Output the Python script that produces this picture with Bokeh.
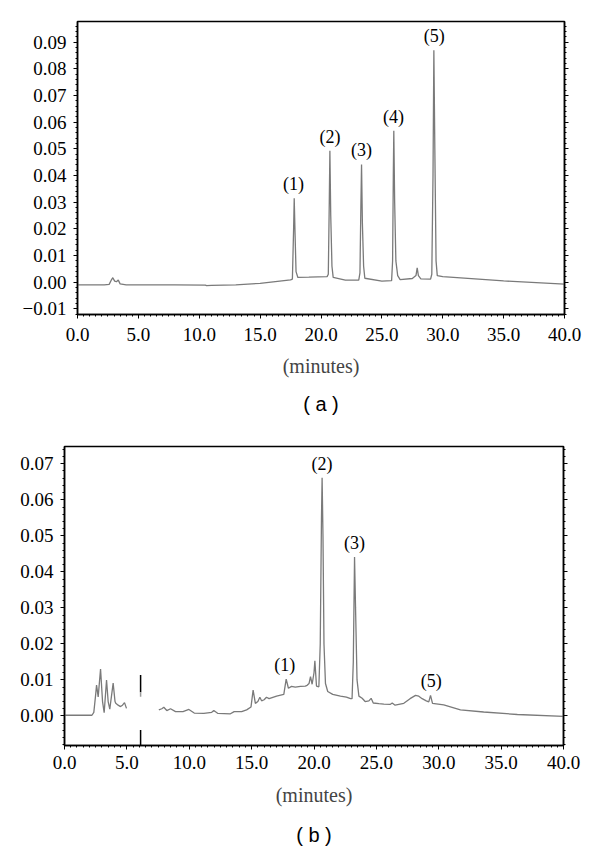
from bokeh.plotting import figure
from bokeh.models import (Range1d, FixedTicker, LinearAxis, Title,
                          CustomJSTickFormatter, PrintfTickFormatter)
from bokeh.core.properties import value
from bokeh.embed import file_html
from bokeh.resources import INLINE

NAN = float("nan")

# ---------------- data: chromatogram (a) ----------------
a_time = [0.0, 2.2, 2.6, 2.8, 2.9, 3.05, 3.2, 3.35, 3.5, 4.0, 8.0, 10.5, 10.6, 11.0,
          13.0, 15.0, 17.5, 17.65, 17.75, 17.8, 17.87, 17.95, 18.1, 19.0, 20.5, 20.6,
          20.68, 20.73, 20.8, 20.9, 21.0, 22.0, 23.1, 23.2, 23.28, 23.33, 23.4, 23.5,
          23.6, 25.0, 25.8, 25.88, 25.94, 25.98, 26.05, 26.15, 26.3, 26.5, 27.5, 27.8,
          27.9, 28.0, 28.2, 29.0, 29.1, 29.2, 29.27, 29.35, 29.45, 29.55, 30.0, 35.0, 40.0]
a_abs = [-0.0010, -0.0010, -0.0008, 0.0010, 0.0017, 0.0004, 0.0002, 0.0008, -0.0006,
         -0.0010, -0.0010, -0.0011, -0.0013, -0.0012, -0.0010, -0.0004, 0.0009, 0.0012,
         0.0200, 0.0315, 0.0180, 0.0040, 0.0018, 0.0019, 0.0021, 0.0030, 0.0300, 0.0493,
         0.0250, 0.0060, 0.0018, 0.0008, 0.0008, 0.0035, 0.0300, 0.0442, 0.0220, 0.0060,
         0.0015, 0.0004, 0.0006, 0.0080, 0.0400, 0.0568, 0.0300, 0.0080, 0.0025, 0.0010,
         0.0014, 0.0025, 0.0054, 0.0025, 0.0013, 0.0012, 0.0030, 0.0400, 0.0870, 0.0500,
         0.0080, 0.0025, 0.0021, 0.0005, -0.0007]
a_peak_labels = ["(1)", "(2)", "(3)", "(4)", "(5)"]
a_peak_times = [17.75, 20.73, 23.33, 25.95, 29.3]
a_peak_heights = [0.0315, 0.0493, 0.0442, 0.0568, 0.0870]

# ---------------- data: chromatogram (b) ----------------
b_time = [0.0, 2.2, 2.35, 2.5, 2.57, 2.7, 2.89, 3.05, 3.18, 3.37, 3.5, 3.63, 3.9, 4.05,
          4.11, 4.3, 4.49, 4.65, 4.81, 4.97, NAN,
          7.56, 7.8, 7.96, 8.2, 8.5, 8.9, 9.5, 9.97, 10.4, 11.17, 11.8, 11.97, 12.3, 13.3,
          13.6, 14.2, 14.6, 14.95, 15.12, 15.3, 15.5, 15.66, 15.8, 16.0, 16.19, 16.4, 17.0,
          17.58, 17.77, 17.95, 18.2, 18.5, 18.92, 19.3, 19.45, 19.6, 19.72, 19.85, 20.0,
          20.07, 20.2, 20.39, 20.5, 20.6, 20.65, 20.72, 20.8, 20.92, 21.1, 21.5, 22.12,
          22.6, 22.93, 23.05, 23.15, 23.25, 23.33, 23.45, 23.6, 23.86, 24.1, 24.4, 24.58,
          24.75, 25.2, 25.6, 26.1, 26.27, 26.5, 27.2, 27.7, 28.14, 28.4, 28.67, 29.0, 29.2,
          29.34, 29.5, 30.4, 31.74, 33.6, 36.3, 40.0]
b_abs = [0.0002, 0.0002, 0.0010, 0.0060, 0.0086, 0.0053, 0.0130, 0.0040, 0.0009, 0.0100,
         0.0040, 0.0019, 0.0091, 0.0040, 0.0035, 0.0030, 0.0026, 0.0030, 0.0037, 0.0021, NAN,
         0.0017, 0.0020, 0.0024, 0.0015, 0.0020, 0.0012, 0.0012, 0.0018, 0.0008, 0.0007,
         0.0010, 0.0015, 0.0007, 0.0006, 0.0012, 0.0012, 0.0017, 0.0025, 0.0072, 0.0035,
         0.0040, 0.0052, 0.0042, 0.0045, 0.0052, 0.0048, 0.0055, 0.0060, 0.0102, 0.0077,
         0.0082, 0.0080, 0.0082, 0.0083, 0.0085, 0.0090, 0.0109, 0.0088, 0.0120, 0.0153,
         0.0083, 0.0081, 0.0200, 0.0550, 0.0661, 0.0500, 0.0200, 0.0090, 0.0068, 0.0060,
         0.0055, 0.0052, 0.0048, 0.0048, 0.0150, 0.0441, 0.0300, 0.0100, 0.0055, 0.0049,
         0.0040, 0.0042, 0.0049, 0.0036, 0.0034, 0.0033, 0.0032, 0.0036, 0.0030, 0.0035,
         0.0048, 0.0057, 0.0055, 0.0048, 0.0042, 0.0039, 0.0057, 0.0035, 0.0031, 0.0017,
         0.0011, 0.0004, -0.0001]
b_peak_labels = ["(1)", "(2)", "(3)", "(5)"]
b_peak_times = [17.65, 20.65, 23.25, 29.4]
b_peak_heights = [0.0102, 0.0661, 0.0441, 0.0057]
# injection/event marker in (b)
b_marker_time = [6.1, 6.1]
b_marker_top = [0.0114, -0.0039]
b_marker_bottom = [0.0066, -0.0083]
b_marker_grey_top = [0.0066]
b_marker_grey_bottom = [0.0053]

x_ticks = [0, 5, 10, 15, 20, 25, 30, 35, 40]
a_y_ticks = [-0.01, 0.0, 0.01, 0.02, 0.03, 0.04, 0.05, 0.06, 0.07, 0.08, 0.09]
b_y_ticks = [0.0, 0.01, 0.02, 0.03, 0.04, 0.05, 0.06, 0.07]
x_label = "(minutes)"

SERIF = "Liberation Serif"
TRACE = "#7a7a7a"

yfmt = CustomJSTickFormatter(code="""
return (tick < -1e-9 ? '\\u2212' : '') + Math.abs(tick).toFixed(2);
""")


def style_axis(ax):
    ax.axis_line_color = "black"
    ax.axis_line_width = 1.5
    ax.major_tick_line_color = "black"
    ax.minor_tick_line_color = "black"
    ax.major_tick_out = 4
    ax.major_tick_in = 0
    ax.minor_tick_out = 2
    ax.minor_tick_in = 0
    ax.major_label_text_font = SERIF
    ax.major_label_text_font_size = "19px"
    ax.major_label_text_color = "black"


def make_fig(height, yr, yticks, border, caption, tick_standoff, lab_standoff, cap_standoff):
    p = figure(width=592, height=height, output_backend="svg", toolbar_location=None,
               x_range=Range1d(0, 40), y_range=Range1d(*yr),
               min_border_left=border[0], min_border_right=border[1],
               min_border_top=border[2], min_border_bottom=border[3])
    p.grid.visible = False
    p.outline_line_color = "black"
    p.outline_line_width = 1.5
    p.background_fill_color = "white"
    p.border_fill_color = "white"

    xminor = [i * 0.5 for i in range(81)]
    p.xaxis.ticker = FixedTicker(ticks=x_ticks, minor_ticks=xminor)
    p.xaxis.formatter = PrintfTickFormatter(format="%.1f")
    p.xaxis.axis_label = x_label
    p.xaxis.axis_label_text_font = SERIF
    p.xaxis.axis_label_text_font_size = "20px"
    p.xaxis.axis_label_text_font_style = "normal"
    p.xaxis.axis_label_standoff = lab_standoff
    p.xaxis.major_label_standoff = tick_standoff
    style_axis(p.xaxis[0])

    yminor = [round(-0.02 + i * 0.002, 4) for i in range(61)]
    p.yaxis.ticker = FixedTicker(ticks=yticks, minor_ticks=yminor)
    p.yaxis.formatter = yfmt
    p.yaxis.major_label_standoff = 7
    style_axis(p.yaxis[0])

    ra = LinearAxis(ticker=FixedTicker(ticks=yticks, minor_ticks=yminor),
                    formatter=CustomJSTickFormatter(code="return '';"))
    style_axis(ra)
    ra.major_label_text_font_size = "1px"
    ra.major_label_text_color = None
    ra.major_label_text_alpha = 0
    ra.major_label_standoff = 0
    p.add_layout(ra, "right")

    p.add_layout(Title(text=caption, align="center", text_font="Liberation Sans",
                       text_font_size="20px", text_font_style="normal",
                       text_color="black", standoff=cap_standoff), "below")
    return p


p1 = make_fig(426, (-0.0121, 0.0978), a_y_ticks, (77, 28, 21, 112), "( a )", 9, 11, 23)
p1.line(a_time, a_abs, line_color=TRACE, line_width=1.3)
p1.text(x=a_peak_times, y=a_peak_heights, text=a_peak_labels, text_align="center",
        text_baseline="bottom", y_offset=-4, text_font=value(SERIF),
        text_font_size="18px", text_color="black")

p2 = make_fig(432, (-0.0082, 0.0748), b_y_ticks, (64, 29, 20, 112), "( b )", 6, 12, 26)
p2.line(b_time, b_abs, line_color=TRACE, line_width=1.3)
p2.segment(x0=b_marker_time, y0=b_marker_bottom, x1=b_marker_time, y1=b_marker_top,
           line_color="black", line_width=1.5)
p2.segment(x0=b_marker_time[:1], y0=b_marker_grey_bottom, x1=b_marker_time[:1],
           y1=b_marker_grey_top, line_color="#999999", line_width=1.5)
p2.text(x=b_peak_times, y=b_peak_heights, text=b_peak_labels, text_align="center",
        text_baseline="bottom", y_offset=-4, text_font=value(SERIF),
        text_font_size="18px", text_color="black")

# two independent roots so that their plot frames are not aligned to each other
open("out.html", "w").write(file_html([p1, p2], INLINE))
